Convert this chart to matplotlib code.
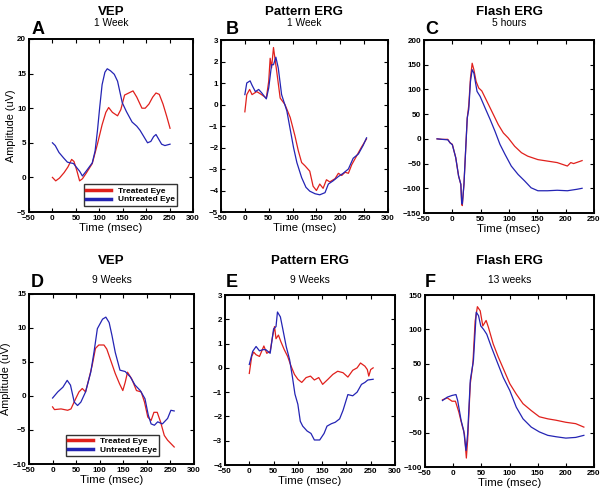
import matplotlib
matplotlib.use("Agg")
import matplotlib.pyplot as plt

plt.rcParams['font.family'] = ['Liberation Sans', 'DejaVu Sans']

RED = '#e0201c'
BLUE = '#2424b4'

# A: VEP, 1 week
a_t_red = [0, 7, 15, 25, 33, 41, 46, 52, 58, 64, 72, 85, 96, 106, 114, 120, 128, 139, 146, 154, 163, 172, 180, 191, 198, 206, 214, 221, 228, 236, 244, 251]
a_v_red = [0, -0.5, -0.1, 0.7, 1.5, 2.6, 2.3, 1.0, -0.5, -0.2, 0.6, 2.0, 4.8, 7.6, 9.4, 10.1, 9.4, 8.9, 9.8, 11.9, 12.2, 12.5, 11.6, 10.0, 10.0, 10.6, 11.6, 12.2, 12.0, 10.6, 8.8, 7.1]
a_t_blue = [0, 6, 14, 24, 32, 45, 52, 58, 64, 72, 85, 91, 96, 101, 106, 112, 117, 124, 132, 139, 149, 158, 170, 180, 187, 195, 203, 210, 216, 221, 227, 233, 240, 251]
a_v_blue = [5.0, 4.6, 3.6, 2.8, 2.2, 2.0, 1.4, 0.9, 0.2, 0.9, 2.1, 3.8, 6.7, 10.2, 13.4, 15.2, 15.7, 15.4, 14.9, 13.9, 10.8, 9.5, 8.0, 7.4, 6.8, 5.9, 5.0, 5.2, 5.9, 6.2, 5.5, 4.8, 4.6, 4.8]

# B: Pattern ERG, 1 week
b_t_red = [0, 4, 10, 15, 25, 35, 45, 50, 53, 56, 60, 63, 67, 74, 84, 95, 105, 112, 119, 126, 136, 143, 150, 157, 164, 171, 178, 189, 196, 203, 210, 217, 224, 234, 244, 255]
b_v_red = [-0.34, 0.46, 0.7, 0.46, 0.6, 0.46, 0.3, 1.08, 2.15, 1.7, 2.65, 2.15, 1.5, 0.3, 0.0, -0.6, -1.46, -2.15, -2.7, -2.85, -3.1, -3.8, -4.0, -3.7, -3.9, -3.5, -3.6, -3.45, -3.2, -3.3, -3.15, -3.2, -2.8, -2.4, -2.0, -1.6]
b_t_blue = [0, 4, 11, 15, 22, 29, 35, 45, 50, 56, 60, 65, 70, 77, 88, 95, 102, 109, 119, 128, 136, 147, 157, 168, 175, 185, 196, 206, 217, 227, 238, 248, 255]
b_v_blue = [0.46, 1.0, 1.1, 0.9, 0.6, 0.7, 0.55, 0.26, 0.77, 1.85, 1.85, 2.2, 1.7, 0.46, -0.3, -1.15, -2.0, -2.7, -3.4, -3.85, -4.03, -4.15, -4.2, -4.1, -3.7, -3.55, -3.35, -3.2, -3.0, -2.5, -2.3, -1.9, -1.55]

# C: Flash ERG, 5 hours
c_t_red = [-27, -18, -8, -4, 0, 6, 11, 15, 16.5, 17.6, 20.5, 23.4, 26.3, 29, 32, 35, 38, 42, 46.5, 52, 58, 64, 72.5, 81, 90, 98.5, 110, 122, 133, 151, 168, 185, 203, 209, 214, 229]
c_v_red = [0, -1, -1, -8, -11, -38, -75, -92, -132, -135, -92, -25, 42, 68, 123, 153, 140, 116, 103, 97, 83, 69, 49, 29, 12, 2, -15, -28, -35, -42, -45, -48, -55, -48, -50, -44]
c_t_blue = [-27, -18, -8, -4, 0, 6, 11, 15, 16.5, 17.6, 20.5, 23.4, 26.3, 29, 32, 35, 38, 43.6, 49, 58, 66.8, 75.4, 84, 92.8, 104, 116, 127.5, 139, 151, 168, 185, 203, 220, 229]
c_v_blue = [0, -1, -2, -8, -12, -38, -75, -92, -128, -132, -92, -25, 42, 60, 116, 140, 133, 96, 86, 62, 39, 15, -11, -31, -55, -72, -85, -99, -105, -105, -104, -105, -102, -100]

# D: VEP, 9 weeks
d_t_red = [0, 4, 18, 32, 39, 49, 56, 63, 70, 77, 84, 91, 98, 109, 115, 126, 133, 142, 149, 154, 159, 168, 178, 188, 195, 202, 209, 215, 222, 229, 237, 244, 251, 258]
d_v_red = [-1.6, -2.0, -1.9, -2.1, -1.9, -0.4, 0.6, 1.1, 0.6, 2.5, 4.5, 7.0, 7.5, 7.5, 6.9, 4.7, 3.3, 1.8, 0.8, 2.0, 3.5, 2.5, 0.8, 0.6, -0.9, -3.1, -3.6, -2.4, -2.4, -3.8, -5.8, -6.5, -7.0, -7.5]
d_t_blue = [0, 11, 22, 31, 38, 46, 53, 60, 70, 81, 88, 95, 106, 113, 120, 126, 133, 143, 154, 165, 175, 186, 196, 203, 209, 216, 223, 233, 244, 251, 258]
d_v_blue = [-0.3, 0.6, 1.3, 2.3, 1.6, -0.9, -1.4, -0.9, 0.6, 3.5, 6.5, 9.9, 11.3, 11.6, 10.8, 8.9, 6.4, 3.8, 3.6, 2.8, 1.6, 0.8, -0.4, -2.8, -4.1, -4.3, -3.8, -4.1, -3.3, -2.1, -2.2]

# E: Pattern ERG, 9 weeks
e_t_red = [0, 5, 9, 14, 21, 30, 36, 43, 48, 52, 55, 60, 65, 72, 79, 86, 93, 100, 108, 117, 126, 134, 143, 151, 162, 172, 182, 193, 203, 213, 222, 229, 238, 243, 246, 250, 255]
e_v_red = [-0.23, 0.47, 0.65, 0.54, 0.47, 0.9, 0.6, 0.68, 1.3, 1.7, 1.2, 1.35, 1.08, 0.75, 0.47, 0.07, -0.27, -0.47, -0.6, -0.4, -0.34, -0.5, -0.4, -0.68, -0.47, -0.27, -0.14, -0.2, -0.38, -0.1, 0.0, 0.2, 0.07, -0.07, -0.34, -0.07, 0.0]
e_t_blue = [0, 7, 14, 21, 28, 34, 43, 50, 55, 58, 64, 69, 76, 83, 89, 94, 100, 105, 110, 119, 127, 134, 145, 154, 160, 169, 177, 186, 193, 203, 213, 222, 231, 238, 244, 255]
e_v_blue = [0.14, 0.68, 0.88, 0.7, 0.75, 0.75, 0.6, 1.6, 1.7, 2.3, 2.1, 1.6, 0.88, 0.34, -0.4, -1.08, -1.5, -2.2, -2.4, -2.6, -2.7, -2.97, -2.97, -2.7, -2.4, -2.3, -2.24, -2.1, -1.75, -1.1, -1.15, -1.0, -0.68, -0.6, -0.5, -0.47]

# F: Flash ERG, 13 weeks
f_t_red = [-19, -10.5, -2, 4, 10, 16, 20, 23.4, 25.7, 30.4, 35, 39, 43, 48, 52.6, 58.5, 62.6, 71, 80, 89, 100.6, 112, 124, 138.6, 153, 168, 182.5, 200, 217.5, 232]
f_v_red = [-2.4, 0.5, -4.4, -4.4, -20, -40, -52, -87, -61, 21, 50, 112, 133, 127, 105, 113, 103, 79, 60, 43, 21, 6, -8, -18, -27, -30, -32, -35, -37, -42]
f_t_blue = [-19, -10.5, -2, 5, 8, 14, 18.7, 22.8, 25.7, 30.4, 36, 41, 45, 49, 54, 59.6, 68, 77, 89, 100.6, 112, 124, 138.6, 153, 168, 182.5, 200, 217.5, 232]
f_v_blue = [-3.4, 1.5, 4, 5.3, -3.4, -32, -47, -76, -52, 26, 55, 125, 120, 105, 100, 93, 74, 55, 30, 11, -13, -30, -42, -49, -54, -56, -58, -57, -54]

W, H = 600, 494


def fx(px):
    return px / W


def fy(py):
    return 1 - py / H


fig = plt.figure(figsize=(6.0, 4.94), dpi=100)

panels = [
    # letter, title, sub, box (l, t, r, b px), xlim, ylim, yticks, data
    ('A', 'VEP', '1 Week', (29, 39, 193, 212), (-50, 300), (-5, 20), range(-5, 21, 5),
     (a_t_red, a_v_red, a_t_blue, a_v_blue)),
    ('B', 'Pattern ERG', '1 Week', (221, 40, 388, 212), (-50, 300), (-5, 3), range(-5, 4),
     (b_t_red, b_v_red, b_t_blue, b_v_blue)),
    ('C', 'Flash ERG', '5 hours', (424, 40, 594, 213), (-50, 250), (-150, 200), range(-150, 201, 50),
     (c_t_red, c_v_red, c_t_blue, c_v_blue)),
    ('D', 'VEP', '9 Weeks', (29, 294, 194, 464), (-50, 300), (-10, 15), range(-10, 16, 5),
     (d_t_red, d_v_red, d_t_blue, d_v_blue)),
    ('E', 'Pattern ERG', '9 Weeks', (225, 295, 395, 465), (-50, 300), (-4, 3), range(-4, 4),
     (e_t_red, e_v_red, e_t_blue, e_v_blue)),
    ('F', 'Flash ERG', '13 weeks', (425, 295, 594, 467), (-50, 250), (-100, 150), range(-100, 151, 50),
     (f_t_red, f_v_red, f_t_blue, f_v_blue)),
]
# baselines (px from top) of title, subtitle, letter for each row
text_rows = {0: (15, 26, 34), 1: (264, 283, 287)}
letter_x = {'A': 38, 'B': 232, 'C': 432, 'D': 37, 'E': 232, 'F': 430}

axes = {}
for i, (letter, title, sub, box, xl, yl, yt, data) in enumerate(panels):
    l, t, r, b = box
    ax = fig.add_axes([fx(l), fy(b), (r - l) / W, (b - t) / H])
    tr, vr, tb, vb = data
    ax.plot(tr, vr, color=RED, lw=0.9, label='Treated Eye')
    ax.plot(tb, vb, color=BLUE, lw=0.9, label='Untreated Eye')
    ax.set_xlim(xl)
    ax.set_ylim(yl)
    ax.set_xticks(range(xl[0], xl[1] + 1, 50))
    ax.set_yticks(list(yt))
    ax.tick_params(direction='in', top=True, right=True, length=3, width=0.8,
                   labelsize=5.8, pad=2)
    for lab in ax.get_xticklabels() + ax.get_yticklabels():
        lab.set_fontweight('bold')
    for s in ax.spines.values():
        s.set_linewidth(1.4)
    ax.set_xlabel('Time (msec)', fontsize=8.2, labelpad=1)
    cx = (l + r) / 2
    ty, sy, ly = text_rows[i // 3]
    fig.text(fx(cx), fy(ty), title, ha='center', va='baseline',
             fontsize=9.5, fontweight='bold')
    fig.text(fx(cx), fy(sy), sub, ha='center', va='baseline', fontsize=7.4)
    fig.text(fx(letter_x[letter]), fy(ly), letter, ha='center', va='baseline',
             fontsize=13, fontweight='bold')
    axes[letter] = ax

legend_spots = {'A': ('lower right', (0.905, 0.035)), 'D': ('lower center', (0.506, 0.047))}
for k in ('A', 'D'):
    axes[k].set_ylabel('Amplitude (uV)', fontsize=7.8, labelpad=1)
    loc, anchor = legend_spots[k]
    leg = axes[k].legend(loc=loc, bbox_to_anchor=anchor,
                         prop={'size': 6.0, 'weight': 'bold'}, frameon=True,
                         fancybox=False, edgecolor='black', handlelength=3.0,
                         borderpad=0.3, labelspacing=0.1, handletextpad=0.8,
                         borderaxespad=0.0)
    leg.get_frame().set_linewidth(1.0)
    for line in leg.get_lines():
        line.set_linewidth(2.5)

fig.savefig('out.png', dpi=100)
